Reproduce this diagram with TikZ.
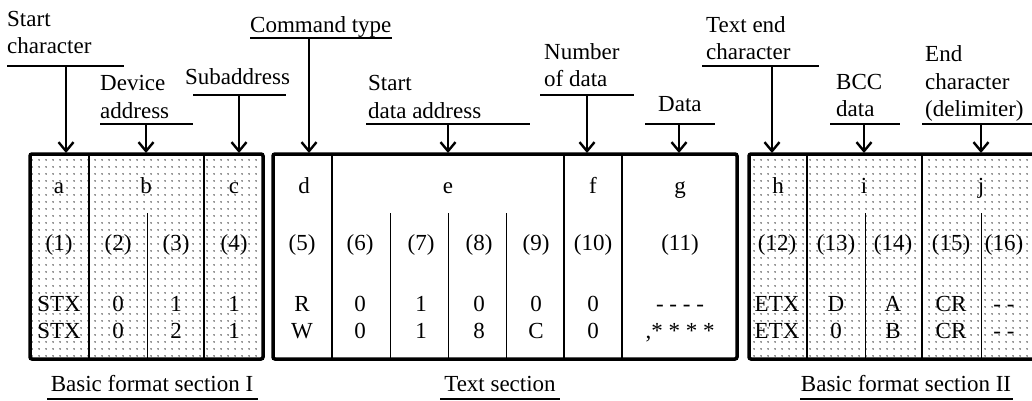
\documentclass[tikz,border=0pt]{standalone}
\usepackage{fontspec}
\setmainfont{Liberation Serif}
\usetikzlibrary{arrows.meta,patterns.meta}
\begin{document}
\begin{tikzpicture}[x=1pt,y=-1pt,
  txt/.style={font=\fontsize{23}{27.5}\selectfont, inner sep=0pt},
  lbl/.style={txt, align=left, anchor=base west},
  cell/.style={txt, anchor=base},
  uline/.style={line width=2.4pt},
  pointer/.style={line width=2.4pt, -{Straight Barb[length=9pt,width=15pt]}},
  frame/.style={line width=3.5pt, rounded corners=2pt},
  sep/.style={line width=2.4pt},
  subsep/.style={line width=0.9pt},
  speckle/.style={pattern={Dots[distance=6.5pt,radius=0.85pt]}, pattern color=black!80}]
  \clip (0,0) rectangle (1032,401);

  % shaded sections and frames
  \fill[speckle] (30,154) rectangle (263,359);
  \fill[speckle] (749,154) rectangle (1040,359);
  \draw[frame] (30,154) rectangle (263,359);
  \draw[frame] (273,154) rectangle (737,359);
  \draw[frame] (749,154) rectangle (1040,359);
  \foreach \x in {89,204,332,564,622,807,922}
    \draw[sep] (\x,154) -- (\x,359);
  \foreach \x in {147,390,448,506,865,981}
    \draw[subsep] (\x,213) -- (\x,359);

  % field letters and numbers
  \foreach \n/\x in {a/59,b/146,c/234,d/304,e/448,f/593,g/680,h/778,i/864,j/981}
    \node[cell] (\n) at (\x,193) {\n};
  \foreach \i/\x in {1/59,2/118,3/176,4/234,5/302,6/360,7/421,8/479,9/536,10/593,
                     11/680,12/777,13/836,14/893,15/951,16/1004}
    \node[cell] (n\i) at (\x,250) {(\i)};

  % example frames: read / write
  \foreach \i/\x/\s/\t in {1/59/STX/STX,2/118/0/0,3/176/1/2,4/234/1/1,5/302/R/W,
                           6/360/0/0,7/421/1/1,8/479/0/8,9/536/0/C,10/593/0/0,
                           11/680/{- - - -}/{,* * * *},12/777/ETX/ETX,13/836/D/0,
                           14/893/A/B,15/951/CR/CR,16/1004/{- -}/{- -}}{
    \node[cell] (r\i) at (\x,311) {\s};
    \node[cell] (w\i) at (\x,338) {\t};
  }

  % field names (anchored at the baseline of the last line)
  \node[lbl] (startchar) at (7,54) {Start\\character};
  \node[lbl] (devaddr) at (100,118) {Device\\address};
  \node[lbl] (subaddr) at (185,85) {Subaddress};
  \node[lbl] (cmdtype) at (250,33) {Command type};
  \node[lbl] (startaddr) at (368,118) {Start\\data address};
  \node[lbl] (numdata) at (544,87) {Number\\of data};
  \node[lbl] (datalbl) at (658,112) {Data};
  \node[lbl] (textend) at (706,60) {Text end\\character};
  \node[lbl] (bccdata) at (836,117) {BCC\\data};
  \node[lbl] (endchar) at (925,117) {End\\character\\(delimiter)};

  \foreach \n/\x/\y/\l/\r in {a/66/66/7/124,b/146/124/100/193,c/239/95/193/286,
                              d/309/38/250/392,e/448/124/366/530,f/587/95/540/634,
                              g/679/124/645/715,h/772/66/702/819,i/864/124/830/900,
                              j/981/124/922/1040}{
    \draw[uline] (\l,\y) -- (\r,\y);
    \coordinate (u\n) at (\x,\y);
    \coordinate (t\n) at (\x,153);
    \draw[pointer] (u\n) -- (t\n);
  }

  % sections
  \node[cell] (sec1) at (152,391) {Basic format section I};
  \node[cell] (sec2) at (500,391) {Text section};
  \node[cell] (sec3) at (906,391) {Basic format section II};
  \draw[uline] (47,399) -- (258,399);
  \draw[uline] (440,399) -- (560,399);
  \draw[uline] (800,399) -- (1013,399);
\end{tikzpicture}
\end{document}
